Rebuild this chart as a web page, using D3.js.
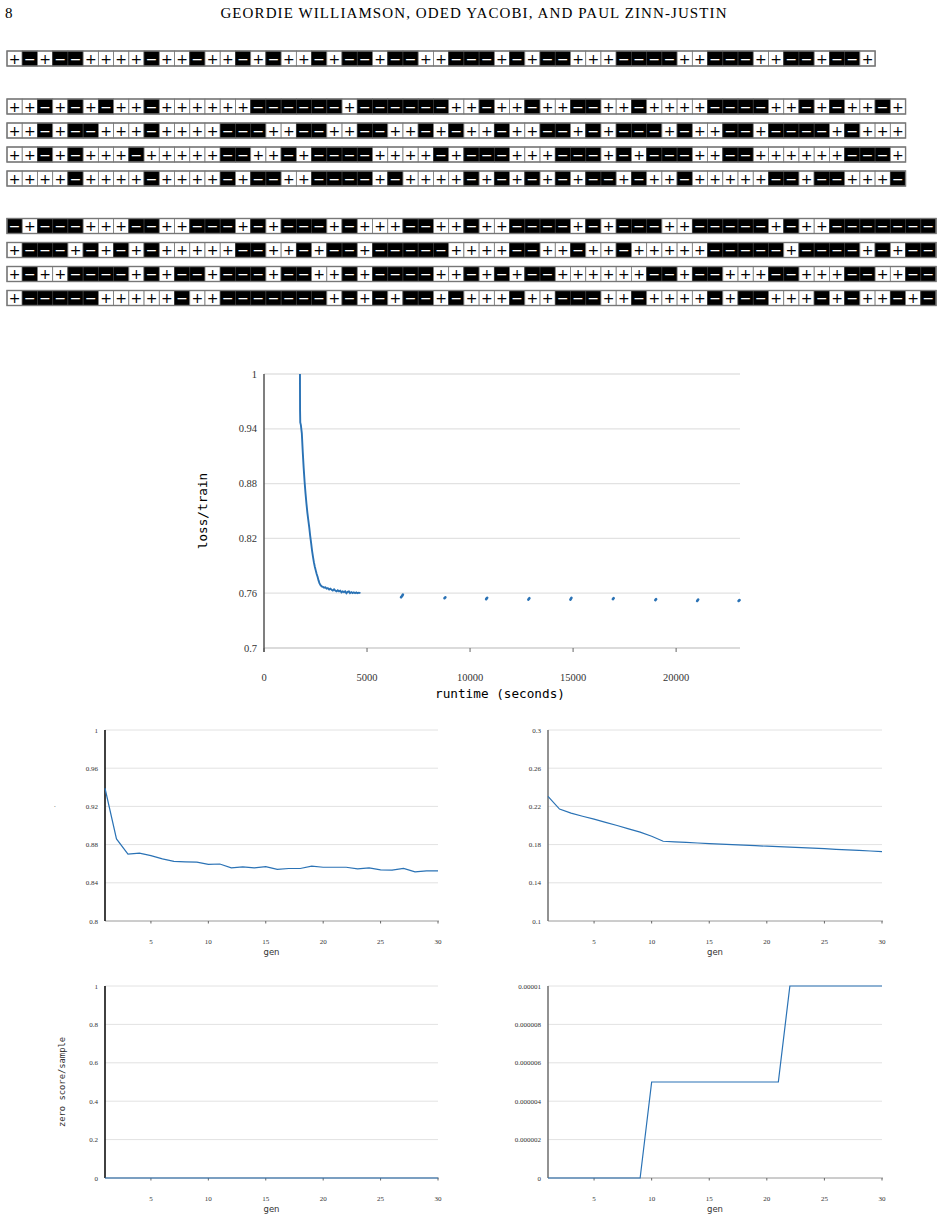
<!DOCTYPE html>
<html>
<head>
<meta charset="utf-8">
<script src="https://cdn.jsdelivr.net/npm/d3@7"></script>
<style>body{margin:0;background:#fff}</style>
</head>
<body>
<script>
// ---- data ----
const pageNumber = "8";
const runningTitle = "GEORDIE WILLIAMSON, ODED YACOBI, AND PAUL ZINN-JUSTIN";

// sign patterns, one string per row
const signRowTop = "+-+--++++-++-++-+-++-+--+--++---+-+--+++----++---++--+--+";
const signRowsA = [
  "++-+-+-++-++++++------+------++-++-++--++-++++----++-+-++-+",
  "++-+--+++-++++---++--++--++-+-++-++--+-+---+-++--+----+-+++",
  "++-+-+++-+++++--++-+----++++-+---+++---+-+---++--++++++---+",
  "++++-++++-++++-+--++----+-++++-+-+-+-+--+-++-+++++--+--+++-"
];
const signRowsB = [
  "-+---+++--++---+-+---+-+++--++-++----+-+---++-----+-++-------",
  "+---+-+-+-+++++--++-+--+-----++++--++-++-+++++-----+----+-+--",
  "+-++----+-+--+---+--++-+----++-+-+--++++++--+--+++--+++--++--",
  "+-----+++++-++-------+-+-+--+-+++-++---++-++++-+--+++-+-++-+-"
];

// main chart: loss/train vs runtime
const runtimeTicks = [0, 5000, 10000, 15000, 20000];
const lossTicks = [0.7, 0.76, 0.82, 0.88, 0.94, 1];
const lossCurve = [
  [1746, 1.0], [1746, 0.990], [1750, 0.960], [1760, 0.947], [1790, 0.944],
  [1836, 0.935], [1880, 0.915], [1926, 0.897], [1970, 0.882], [2016, 0.869],
  [2060, 0.858], [2106, 0.848], [2150, 0.840], [2196, 0.832], [2240, 0.823],
  [2286, 0.815], [2330, 0.807], [2376, 0.800], [2420, 0.794], [2466, 0.789],
  [2510, 0.785], [2556, 0.781], [2600, 0.778], [2646, 0.774], [2690, 0.771],
  [2736, 0.769], [2800, 0.7675], [2860, 0.767], [2916, 0.766], [2980, 0.7665],
  [3040, 0.765], [3096, 0.7655], [3160, 0.764], [3220, 0.765], [3280, 0.7638],
  [3340, 0.763], [3400, 0.7642], [3456, 0.763], [3520, 0.762], [3580, 0.7632],
  [3640, 0.762], [3700, 0.7628], [3760, 0.761], [3816, 0.762], [3880, 0.7612],
  [3940, 0.762], [4000, 0.760], [4060, 0.7615], [4120, 0.762], [4176, 0.760],
  [4240, 0.7612], [4300, 0.7602], [4360, 0.761], [4420, 0.760], [4480, 0.7608],
  [4540, 0.760], [4600, 0.7606], [4680, 0.760]
];
const lossDots = [
  [[6650, 0.7555], [6700, 0.757], [6740, 0.7585]],
  [[8760, 0.7545], [8800, 0.7555]],
  [[10780, 0.7535], [10830, 0.755]],
  [[12830, 0.753], [12880, 0.7545]],
  [[14870, 0.753], [14920, 0.755]],
  [[16930, 0.7535], [16970, 0.7545]],
  [[18990, 0.7525], [19030, 0.7535]],
  [[21020, 0.7515], [21070, 0.753]],
  [[23030, 0.7515], [23080, 0.7525]]
];

// small charts: values per generation
const gens = [1,2,3,4,5,6,7,8,9,10,11,12,13,14,15,16,17,18,19,20,21,22,23,24,25,26,27,28,29,30];
const genTicks = [5, 10, 15, 20, 25, 30];
const lossPerGen = [0.939,0.886,0.870,0.871,0.8685,0.865,0.8625,0.862,0.8616,0.8593,
  0.8597,0.8557,0.8567,0.8557,0.857,0.854,0.855,0.855,0.8574,0.8563,
  0.8563,0.8563,0.8546,0.8557,0.8536,0.8532,0.855,0.8515,0.8525,0.8525];
const secondPerGen = [0.2304,0.2172,0.213,0.2097,0.2066,0.2033,0.2,0.1965,0.193,0.1887,
  0.1835,0.1829,0.1823,0.1817,0.181,0.1805,0.18,0.1795,0.1789,0.1783,
  0.1778,0.1773,0.1768,0.1763,0.1757,0.1751,0.1745,0.1739,0.1733,0.1727];
const zeroScorePerGen = [0,0,0,0,0,0,0,0,0,0,0,0,0,0,0,0,0,0,0,0,0,0,0,0,0,0,0,0,0,0];
const rarePerGen = [0,0,0,0,0,0,0,0,0,0.000005,0.000005,0.000005,0.000005,0.000005,0.000005,
  0.000005,0.000005,0.000005,0.000005,0.000005,0.000005,0.00001,0.00001,0.00001,0.00001,
  0.00001,0.00001,0.00001,0.00001,0.00001];
const lossGenTicks = [0.8, 0.84, 0.88, 0.92, 0.96, 1];
const secondGenTicks = [0.1, 0.14, 0.18, 0.22, 0.26, 0.3];
const zeroGenTicks = [0, 0.2, 0.4, 0.6, 0.8, 1];
const rareGenTicks = [0, 0.000002, 0.000004, 0.000006, 0.000008, 0.00001];

// ---- drawing ----
const blue = "#2a72b5";
const grid = "#e2e2e2";
const cellW = 15.23;

const svg = d3.select("body").append("svg")
    .attr("width", 943)
    .attr("height", 1222)
    .style("font-family", "'Liberation Serif', serif");

// running head
svg.append("text").attr("x", 5).attr("y", 18).style("font-size", "15px").text(pageNumber);
svg.append("text").attr("x", 474).attr("y", 18).attr("text-anchor", "middle")
    .style("font-size", "15px").style("letter-spacing", "1.1px").text(runningTitle);

function signRow(str, y) {
  const cells = str.split("");
  const x = d3.scaleBand().domain(d3.range(cells.length)).range([7, 7 + cells.length * cellW]);
  const g = svg.append("g");
  g.selectAll("rect.cell").data(cells).join("rect")
      .attr("class", "cell")
      .attr("x", (d, i) => x(i))
      .attr("y", y)
      .attr("width", x.bandwidth())
      .attr("height", 15)
      .attr("fill", d => d === "+" ? "#fff" : "#000")
      .attr("stroke", d => d === "+" ? "#777" : "#333")
      .attr("stroke-width", 0.8);
  g.append("rect")
      .attr("x", 7).attr("y", y)
      .attr("width", cells.length * cellW).attr("height", 15)
      .attr("fill", "none").attr("stroke", "#777").attr("stroke-width", 1.4);
  g.selectAll("text").data(cells).join("text")
      .attr("x", (d, i) => x(i) + x.bandwidth() / 2)
      .attr("y", y + 7.5)
      .attr("text-anchor", "middle")
      .attr("dominant-baseline", "central")
      .style("font-family", "'DejaVu Sans', sans-serif")
      .style("font-size", "14px")
      .attr("fill", d => d === "+" ? "#000" : "#fff")
      .text(d => d === "+" ? "+" : "\u2212");
}

signRow(signRowTop, 51);
signRowsA.forEach((r, i) => signRow(r, 99 + i * 24));
signRowsB.forEach((r, i) => signRow(r, 218.5 + i * 24));

// main chart
{
  const x = d3.scaleLinear().domain([0, 23100]).range([264, 740]);
  const y = d3.scaleLinear().domain([0.7, 1]).range([648, 374]);
  const g = svg.append("g");

  g.selectAll("line.grid").data(lossTicks).join("line")
      .attr("x1", 264).attr("x2", 740)
      .attr("y1", d => y(d)).attr("y2", d => y(d))
      .attr("stroke", d => d === 0.7 ? "#cfcfcf" : grid).attr("stroke-width", 1.3);

  g.selectAll("text.ylab").data(lossTicks).join("text")
      .attr("x", 257).attr("y", d => y(d) + 3.5)
      .attr("text-anchor", "end")
      .style("font-size", "10.5px").attr("fill", "#333")
      .text(d => d);

  g.selectAll("line.xt").data(runtimeTicks).join("line")
      .attr("x1", d => x(d)).attr("x2", d => x(d))
      .attr("y1", 648).attr("y2", 652)
      .attr("stroke", "#666");
  g.selectAll("text.xlab").data(runtimeTicks).join("text")
      .attr("x", d => x(d)).attr("y", 681)
      .attr("text-anchor", "middle")
      .style("font-size", "10.5px").attr("fill", "#333")
      .text(d => d);

  g.append("line").attr("x1", 264).attr("x2", 264).attr("y1", 374).attr("y2", 652)
      .attr("stroke", "#555").attr("stroke-width", 1.5);

  const line = d3.line().x(d => x(d[0])).y(d => y(d[1]));
  g.append("path").datum(lossCurve).attr("d", line)
      .attr("fill", "none").attr("stroke", blue).attr("stroke-width", 1.9);
  g.selectAll("path.dot").data(lossDots).join("path")
      .attr("d", line)
      .attr("fill", "none").attr("stroke", blue).attr("stroke-width", 2.6)
      .attr("stroke-linecap", "round");

  g.append("text").attr("x", 500).attr("y", 698).attr("text-anchor", "middle")
      .style("font-family", "'DejaVu Sans Mono', monospace").style("font-size", "12.7px")
      .text("runtime (seconds)");
  g.append("text").attr("transform", "translate(207,511) rotate(-90)").attr("text-anchor", "middle")
      .style("font-family", "'DejaVu Sans Mono', monospace").style("font-size", "12.7px")
      .text("loss/train");
}

function fmtTick(d) {
  if (d === 0) return "0";
  return d.toFixed(6).replace(/0+$/, "").replace(/\.$/, "");
}

function smallChart(o) {
  const x = d3.scaleLinear().domain([1, 30]).range([o.left, o.right]);
  const y = d3.scaleLinear().domain(o.domain).range([o.bottom, o.top]);
  const g = svg.append("g");

  g.selectAll("line.grid").data(o.ticks.slice(1)).join("line")
      .attr("x1", o.left).attr("x2", o.right)
      .attr("y1", d => y(d)).attr("y2", d => y(d))
      .attr("stroke", grid).attr("stroke-width", 1);
  g.append("line").attr("x1", o.left).attr("x2", o.right + 1)
      .attr("y1", o.bottom).attr("y2", o.bottom)
      .attr("stroke", "#9a9a9a").attr("stroke-width", 1);

  g.selectAll("text.ylab").data(o.ticks).join("text")
      .attr("x", o.left - 7).attr("y", d => y(d) + 2.5)
      .attr("text-anchor", "end")
      .style("font-size", "7px").attr("fill", "#333")
      .text(fmtTick);

  g.selectAll("line.xt").data(genTicks).join("line")
      .attr("x1", d => x(d)).attr("x2", d => x(d))
      .attr("y1", o.bottom).attr("y2", o.bottom + 2.5)
      .attr("stroke", "#666");
  g.selectAll("text.xlab").data(genTicks).join("text")
      .attr("x", d => x(d)).attr("y", o.bottom + 22.5)
      .attr("text-anchor", "middle")
      .style("font-size", "7px").attr("fill", "#333")
      .text(d => d);

  g.append("line").attr("x1", o.left).attr("x2", o.left)
      .attr("y1", o.top).attr("y2", o.bottom)
      .attr("stroke", o.axisColor).attr("stroke-width", 1.6);

  g.append("path").datum(o.values)
      .attr("d", d3.line().x((d, i) => x(gens[i])).y(d => y(d)))
      .attr("fill", "none").attr("stroke", blue).attr("stroke-width", 1.2);

  g.append("text").attr("x", (o.left + o.right) / 2).attr("y", o.bottom + 34)
      .attr("text-anchor", "middle")
      .style("font-family", "'DejaVu Sans', sans-serif").style("font-size", "8.5px")
      .attr("fill", "#333").text("gen");
}

smallChart({left: 105, right: 438, top: 730, bottom: 921, domain: [0.8, 1],
  ticks: lossGenTicks, values: lossPerGen, axisColor: "#111"});
smallChart({left: 548, right: 882, top: 730, bottom: 921, domain: [0.1, 0.3],
  ticks: secondGenTicks, values: secondPerGen, axisColor: "#777"});
smallChart({left: 105, right: 438, top: 986, bottom: 1178, domain: [0, 1],
  ticks: zeroGenTicks, values: zeroScorePerGen, axisColor: "#111"});
smallChart({left: 548, right: 882, top: 986, bottom: 1178, domain: [0, 0.00001],
  ticks: rareGenTicks, values: rarePerGen, axisColor: "#777"});

svg.append("text").attr("x", 54).attr("y", 807).style("font-size", "7px").attr("fill", "#555").text(".");
svg.append("text").attr("transform", "translate(65,1082) rotate(-90)").attr("text-anchor", "middle")
    .style("font-family", "'DejaVu Sans Mono', monospace").style("font-size", "8.8px")
    .attr("fill", "#333").text("zero score/sample");
</script>
</body>
</html>
